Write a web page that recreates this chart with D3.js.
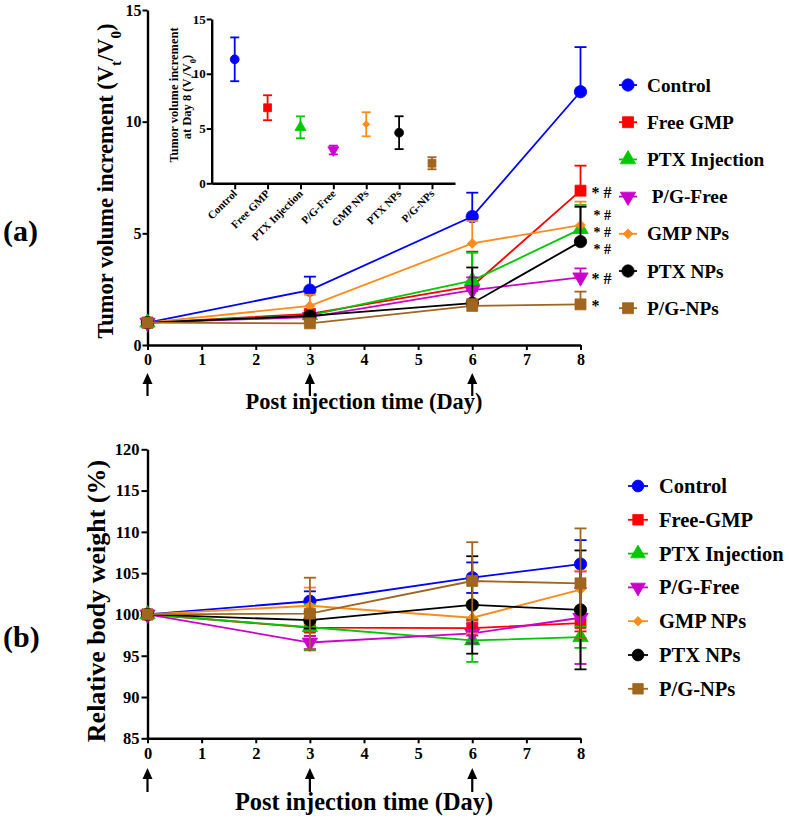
<!DOCTYPE html>
<html><head><meta charset="utf-8">
<script src="https://cdn.jsdelivr.net/npm/d3@7"></script>
<style>
body{margin:0;background:#fff}
svg{display:block}
text{font-family:"Liberation Serif","Times New Roman",serif;font-weight:bold;fill:#000}
</style></head>
<body><svg id="c" width="790" height="819"></svg>
<script>
// ---------------- DATA ----------------
const days = [0, 3, 6, 8];
const dayTicks = [0, 1, 2, 3, 4, 5, 6, 7, 8];
const injectionDays = [0, 3, 6];
const groupsA = ["Control", "Free GMP", "PTX Injection", " P/G-Free", "GMP NPs", "PTX NPs", "P/G-NPs"];
const groupsB = ["Control", "Free-GMP", "PTX Injection", "P/G-Free", "GMP NPs", "PTX NPs", "P/G-NPs"];
const insetCats = ["Control", "Free GMP", "PTX Injection", "P/G-Free", "GMP NPs", "PTX NPs", "P/G-NPs"];
const colors = ["#0000ff", "#ff0000", "#00c800", "#cc00cc", "#ff8c1a", "#000000", "#a0651e"];
const shapes = ["circle", "square", "triangle", "triangleDown", "diamond", "circle", "square"];

// Tumor volume increment (Vt/V0)
const tumorMeans = [
  [1, 2.46, 5.75, 11.34],
  [1, 1.39, 2.64, 6.91],
  [1, 1.33, 2.88, 5.19],
  [1, 1.25, 2.46, 3.03],
  [1, 1.75, 4.55, 5.37],
  [1, 1.30, 1.87, 4.63],
  [1, 0.97, 1.75, 1.82]
];
const tumorErr = [
  [0, 0.60, 1.07, 2.00],
  [0, 0.15, 1.54, 1.12],
  [0, 0.12, 1.25, 1.08],
  [0, 0.10, 0.57, 0.40],
  [0, 0.50, 1.00, 1.05],
  [0, 0.12, 1.60, 1.56],
  [0, 0.10, 0.30, 0.57]
];
const signif = ["", "* #", "* #", "* #", "* #", "* #", "*"];
const tumorTicks = [0, 5, 10, 15];

// Inset: day 8
const insetMeans = [11.32, 6.90, 5.11, 3.04, 5.39, 4.62, 1.83];
const insetErr = [2.00, 1.14, 1.00, 0.40, 1.10, 1.50, 0.55];

// Relative body weight (%)
const weightMeans = [
  [100, 101.6, 104.45, 106.1],
  [100, 98.4, 98.35, 98.95],
  [100, 98.45, 96.85, 97.25],
  [100, 96.6, 97.7, 99.6],
  [100, 101.05, 99.6, 103.0],
  [100, 99.3, 101.15, 100.55],
  [100, 100.1, 104.05, 103.77]
];
const weightErr = [
  [0, 1.2, 1.85, 2.9],
  [0, 1.0, 0.9, 1.0],
  [0, 2.8, 2.6, 1.3],
  [0, 0.8, 1.2, 5.6],
  [0, 2.2, 1.9, 2.3],
  [0, 1.0, 5.9, 7.2],
  [0, 4.35, 4.7, 6.65]
];
const weightTicks = [85, 90, 95, 100, 105, 110, 115, 120];

// ---------------- HELPERS ----------------
const svg = d3.select("#c");

function symbolPath(shape, size) {
  const map = {circle: d3.symbolCircle, square: d3.symbolSquare, triangle: d3.symbolTriangle,
               triangleDown: d3.symbolTriangle, diamond: d3.symbolSquare};
  return d3.symbol().type(map[shape]).size(size)();
}
function symbolRot(shape) {
  return shape === "triangleDown" ? 180 : (shape === "diamond" ? 45 : 0);
}
function markerSize(shape, base) {
  if (shape === "diamond") return base * 0.4;
  if (shape === "triangle" || shape === "triangleDown") return base * 0.85;
  return base;
}
function drawMarker(g, shape, x, y, color, base) {
  g.append("path")
    .attr("d", symbolPath(shape, markerSize(shape, base)))
    .attr("transform", `translate(${x},${y}) rotate(${symbolRot(shape)})`)
    .attr("fill", color).attr("stroke", color).attr("stroke-width", 0.8);
}
function styleAxis(g, fs) {
  g.selectAll("path.domain").attr("stroke", "#000").attr("stroke-width", 2.4);
  g.selectAll(".tick line").attr("stroke", "#000").attr("stroke-width", 2);
  g.selectAll(".tick text").style("font-size", fs + "px")
    .style("font-family", '"Liberation Serif","Times New Roman",serif').style("font-weight", "bold");
}
function drawArrow(x, yTip, yBot) {
  svg.append("line").attr("x1", x).attr("x2", x).attr("y1", yBot).attr("y2", yTip + 8)
    .attr("stroke", "#000").attr("stroke-width", 2.2);
  svg.append("path").attr("d", `M${x},${yTip} L${x - 5},${yTip + 11} L${x + 5},${yTip + 11} Z`).attr("fill", "#000");
}

// ---------------- PANEL A ----------------
const xA = d3.scaleLinear().domain([0, 8]).range([147.5, 580.5]);
const yA = d3.scaleLinear().domain([0, 15]).range([345, 10]);

const gA = svg.append("g");
const axAy = gA.append("g").attr("transform", `translate(${xA(0)},0)`)
  .call(d3.axisLeft(yA).tickValues(tumorTicks).tickSize(5).tickPadding(1).tickSizeOuter(0).tickFormat(d3.format("d")));
styleAxis(axAy, 16);
const axAx = gA.append("g").attr("transform", `translate(0,${yA(0)})`)
  .call(d3.axisBottom(xA).tickValues(dayTicks).tickSize(5).tickPadding(4).tickSizeOuter(0).tickFormat(d3.format("d")));
styleAxis(axAx, 16);

tumorMeans.forEach((m, i) => {
  const g = gA.append("g");
  const c = colors[i];
  days.forEach((d, j) => {
    if (tumorErr[i][j] > 0) {
      const y1 = yA(m[j]), y2 = yA(m[j] + tumorErr[i][j]);
      g.append("line").attr("x1", xA(d)).attr("x2", xA(d)).attr("y1", y1).attr("y2", y2).attr("stroke", c).attr("stroke-width", 1.8);
      g.append("line").attr("x1", xA(d) - 6).attr("x2", xA(d) + 6).attr("y1", y2).attr("y2", y2).attr("stroke", c).attr("stroke-width", 1.8);
    }
  });
  g.append("path").datum(m).attr("fill", "none").attr("stroke", c).attr("stroke-width", 1.8)
    .attr("d", d3.line().x((v, j) => xA(days[j])).y(v => yA(v)));
  m.forEach((v, j) => drawMarker(g, shapes[i], xA(days[j]), yA(v), c, 120));
});

// significance marks; the three close ones are stacked in a small column
const stacked = [4, 2, 5];
const stackY = [213.5, 230.5, 247.5];
signif.forEach((s, i) => {
  if (!s || stacked.includes(i)) return;
  gA.append("text").attr("x", xA(8) + 11).attr("y", yA(tumorMeans[i][3]) + 7)
    .style("font-size", "16px").attr("xml:space", "preserve").text(s);
});
stacked.forEach((i, k) => {
  gA.append("text").attr("x", xA(8) + 13).attr("y", stackY[k] + 6)
    .style("font-size", "14px").attr("xml:space", "preserve").text(signif[i]);
});

// legend A
groupsA.forEach((name, i) => {
  const y = 85 + i * 37.2;
  svg.append("line").attr("x1", 619).attr("x2", 637).attr("y1", y).attr("y2", y).attr("stroke", colors[i]).attr("stroke-width", 1.8);
  drawMarker(svg, shapes[i], 628, y, colors[i], 120);
  svg.append("text").attr("x", 647).attr("y", y + 6.5).attr("xml:space", "preserve").style("font-size", "19.3px").text(name);
});

// axis titles A
const tA = svg.append("text").attr("transform", "translate(113,181) rotate(-90)").attr("text-anchor", "middle").style("font-size", "22.5px");
tA.append("tspan").text("Tumor volume increment (V");
tA.append("tspan").attr("baseline-shift", "sub").style("font-size", "15px").text("t");
tA.append("tspan").text("/V");
tA.append("tspan").attr("baseline-shift", "sub").style("font-size", "15px").text("0");
tA.append("tspan").text(")");
svg.append("text").attr("x", 364).attr("y", 409).attr("text-anchor", "middle").style("font-size", "22.4px").text("Post injection time (Day)");
svg.append("text").attr("x", 3).attr("y", 241).style("font-size", "30px").text("(a)");
injectionDays.forEach(d => drawArrow(xA(d), 373, 396));

// ---------------- INSET ----------------
const xI = d3.scalePoint().domain(insetCats).range([211.7, 455]).padding(0.7);
const yI = d3.scaleLinear().domain([0, 15]).range([183.3, 19]);
const gI = svg.append("g");
const axIy = gI.append("g").attr("transform", `translate(211.7,0)`)
  .call(d3.axisLeft(yI).tickValues(tumorTicks).tickSize(5).tickPadding(1).tickSizeOuter(0).tickFormat(d3.format("d")));
styleAxis(axIy, 13);
const axIx = gI.append("g").attr("transform", `translate(0,${yI(0)})`)
  .call(d3.axisBottom(xI).tickSize(6).tickSizeOuter(0).tickFormat(""));
styleAxis(axIx, 11);
insetCats.forEach((c, i) => {
  gI.append("text").attr("transform", `translate(${xI(c) + 3},${yI(0) + 11}) rotate(-45)`)
    .attr("text-anchor", "end").style("font-size", "11px").text(c);
  const x = xI(c), col = colors[i];
  const yT = yI(insetMeans[i] + insetErr[i]), yBt = yI(insetMeans[i] - insetErr[i]);
  gI.append("line").attr("x1", x).attr("x2", x).attr("y1", yT).attr("y2", yBt).attr("stroke", col).attr("stroke-width", 1.8);
  [yT, yBt].forEach(yy => gI.append("line").attr("x1", x - 4.5).attr("x2", x + 4.5).attr("y1", yy).attr("y2", yy).attr("stroke", col).attr("stroke-width", 1.8));
  drawMarker(gI, shapes[i], x, yI(insetMeans[i]), col, 62);
});
svg.append("text").attr("transform", "translate(177.5,95) rotate(-90)").attr("text-anchor", "middle").style("font-size", "12.5px").text("Tumor volume increment");
const tI2 = svg.append("text").attr("transform", "translate(190.5,97) rotate(-90)").attr("text-anchor", "middle").style("font-size", "12.5px");
tI2.append("tspan").text("at Day 8 (V");
tI2.append("tspan").attr("baseline-shift", "sub").style("font-size", "8.5px").text("t");
tI2.append("tspan").text("/V");
tI2.append("tspan").attr("baseline-shift", "sub").style("font-size", "8.5px").text("0");
tI2.append("tspan").text(")");

// ---------------- PANEL B ----------------
const xB = d3.scaleLinear().domain([0, 8]).range([147.5, 580.5]);
const yB = d3.scaleLinear().domain([85, 120]).range([738.3, 449.3]);
const gB = svg.append("g");
const axBy = gB.append("g").attr("transform", `translate(${xB(0)},0)`)
  .call(d3.axisLeft(yB).tickValues(weightTicks).tickSize(6).tickPadding(2).tickSizeOuter(0).tickFormat(d3.format("d")));
styleAxis(axBy, 16.5);
const axBx = gB.append("g").attr("transform", `translate(0,${yB(85)})`)
  .call(d3.axisBottom(xB).tickValues(dayTicks).tickSize(5).tickPadding(4).tickSizeOuter(0).tickFormat(d3.format("d")));
styleAxis(axBx, 16.5);

weightMeans.forEach((m, i) => {
  const g = gB.append("g");
  const c = colors[i];
  days.forEach((d, j) => {
    const e = weightErr[i][j];
    if (e > 0) {
      const yT = yB(m[j] + e), yBo = yB(m[j] - e);
      g.append("line").attr("x1", xB(d)).attr("x2", xB(d)).attr("y1", yT).attr("y2", yBo).attr("stroke", c).attr("stroke-width", 1.8);
      [yT, yBo].forEach(yy => g.append("line").attr("x1", xB(d) - 6).attr("x2", xB(d) + 6).attr("y1", yy).attr("y2", yy).attr("stroke", c).attr("stroke-width", 1.8));
    }
  });
  g.append("path").datum(m).attr("fill", "none").attr("stroke", c).attr("stroke-width", 1.8)
    .attr("d", d3.line().x((v, j) => xB(days[j])).y(v => yB(v)));
  m.forEach((v, j) => drawMarker(g, shapes[i], xB(days[j]), yB(v), c, 120));
});

groupsB.forEach((name, i) => {
  const y = 486 + i * 33.8;
  svg.append("line").attr("x1", 628).attr("x2", 648).attr("y1", y).attr("y2", y).attr("stroke", colors[i]).attr("stroke-width", 1.8);
  drawMarker(svg, shapes[i], 638, y, colors[i], 110);
  svg.append("text").attr("x", 659).attr("y", y + 7).style("font-size", "20.5px").text(name);
});

svg.append("text").attr("transform", "translate(104.5,601) rotate(-90)").attr("text-anchor", "middle").style("font-size", "26px").text("Relative body weight (%)");
svg.append("text").attr("x", 364).attr("y", 810).attr("text-anchor", "middle").style("font-size", "24.4px").text("Post injection time (Day)");
svg.append("text").attr("x", 3).attr("y", 647).style("font-size", "30px").text("(b)");
injectionDays.forEach(d => drawArrow(xB(d), 768, 792));
</script></body></html>
